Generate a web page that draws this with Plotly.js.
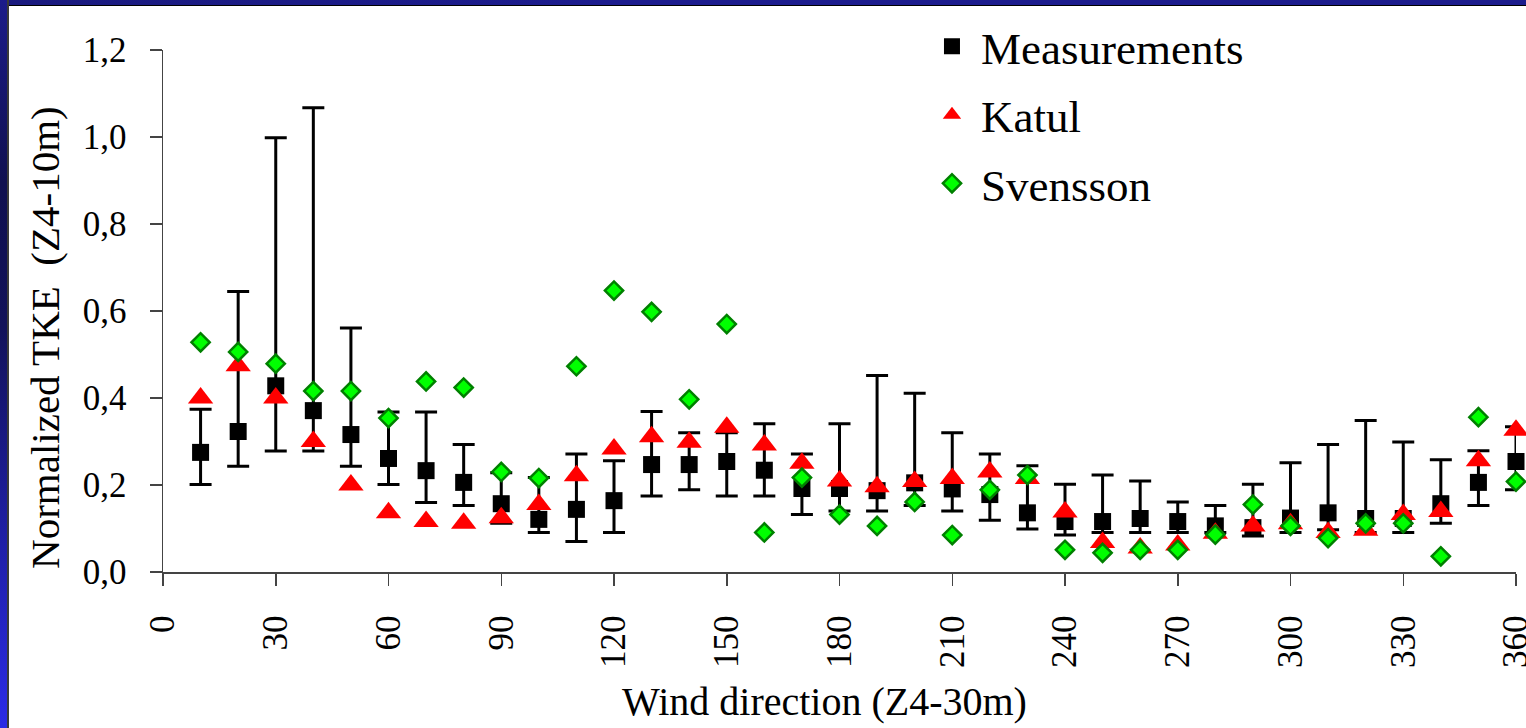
<!DOCTYPE html>
<html>
<head>
<meta charset="utf-8">
<script src="https://cdn.plot.ly/plotly-3.0.1.min.js"></script>
<style>
  html, body { margin: 0; padding: 0; width: 1526px; height: 728px; overflow: hidden; background: #ffffff; }
  #topband { position: absolute; left: 0; top: 0; width: 1526px; height: 5px; background: linear-gradient(to right, #1a1a7e, #1c1c8e 40%, #1c1c8c); border-bottom: 1px solid #000; z-index: 2; }
  #leftband { position: absolute; left: 0; top: 0; width: 7px; height: 728px; background: linear-gradient(to bottom, #1c1c8a 0%, #101050 25%, #12125a 45%, #2020a8 75%, #2b2be6 100%); border-right: 2px solid #3a3a3a; z-index: 2; }
  #chart { position: absolute; left: 0; top: 0; width: 1526px; height: 728px; z-index: 1; }
</style>
</head>
<body>
<div id="topband"></div>
<div id="leftband"></div>
<div id="chart"></div>
<script>
// Wind direction (degrees)
const direction = [10,20,30,40,50,60,70,80,90,100,110,120,130,140,150,160,170,180,
                   190,200,210,220,230,240,250,260,270,280,290,300,310,320,330,340,350,360];

// Measurements (mean) and error bar extremes (upper / lower values)
const measurements = [0.275,0.323,0.428,0.371,0.316,0.261,0.233,0.206,0.157,0.121,0.144,0.164,
                      0.247,0.247,0.254,0.234,0.192,0.192,0.187,0.205,0.191,0.178,0.136,0.116,
                      0.116,0.123,0.116,0.106,0.102,0.124,0.136,0.123,0.123,0.157,0.206,0.254];
const measUpper = [0.374,0.645,0.998,1.067,0.561,0.368,0.368,0.293,0.228,0.217,0.271,0.256,
                   0.369,0.320,0.320,0.341,0.271,0.341,0.452,0.411,0.320,0.271,0.244,0.202,
                   0.223,0.209,0.161,0.153,0.202,0.251,0.293,0.348,0.299,0.258,0.279,0.334];
const measLower = [0.201,0.243,0.278,0.278,0.243,0.201,0.160,0.153,0.112,0.091,0.070,0.091,
                   0.175,0.189,0.175,0.175,0.132,0.140,0.140,0.153,0.140,0.119,0.099,0.085,
                   0.091,0.091,0.091,0.091,0.083,0.091,0.097,0.091,0.091,0.112,0.153,0.189];

// Katul model
const katul = [0.400,0.474,0.400,0.300,0.200,0.136,0.116,0.112,0.125,0.155,0.221,0.283,
               0.311,0.298,0.333,0.292,0.250,0.209,0.196,0.208,0.215,0.230,0.215,0.138,
               0.068,0.055,0.062,0.089,0.106,0.111,0.091,0.096,0.132,0.139,0.256,0.326];

// Svensson model
const svensson = [0.528,0.506,0.479,0.416,0.416,0.354,0.438,0.424,0.230,0.216,0.473,0.647,
                  0.598,0.397,0.570,0.091,0.217,0.132,0.106,0.161,0.085,0.189,0.223,0.051,
                  0.044,0.051,0.051,0.086,0.155,0.106,0.078,0.112,0.112,0.036,0.356,0.208];

const seriesNames = ['Measurements', 'Katul', 'Svensson'];
const xTickVals = [0,30,60,90,120,150,180,210,240,270,300,330,360];
const yTickVals = [0,0.2,0.4,0.6,0.8,1.0,1.2];
const xTitle = 'Wind direction (Z4-30m)';
const yTitle = 'Normalized TKE\u00a0\u00a0(Z4-10m)';

const errPlus = measUpper.map((u, i) => u - measurements[i]);
const errMinus = measLower.map((l, i) => measurements[i] - l);

const serif = 'Liberation Serif, Times New Roman, serif';

const traces = [
  {
    x: direction, y: measurements, type: 'scatter', mode: 'markers', name: seriesNames[0],
    legendgroup: 'g1', cliponaxis: false,
    marker: { symbol: 'square', size: 17, color: '#000000' },
    error_y: { type: 'data', symmetric: false, array: errPlus, arrayminus: errMinus,
               color: '#000000', thickness: 3, width: 11 }
  },
  {
    x: direction, y: katul, type: 'scatter', mode: 'markers', name: seriesNames[1],
    legendgroup: 'g2', cliponaxis: false,
    marker: { symbol: 'triangle-up', size: 22, color: '#ff0000' }
  },
  {
    x: direction, y: svensson, type: 'scatter', mode: 'markers', name: seriesNames[2],
    legendgroup: 'g3', cliponaxis: false,
    marker: { symbol: 'diamond', size: 14, color: '#00ff00', line: { color: '#008000', width: 2.5 } }
  }
];

const layout = {
  width: 1526, height: 728,
  paper_bgcolor: 'rgba(0,0,0,0)',
  plot_bgcolor: 'rgba(0,0,0,0)',
  separators: ', ',
  margin: { l: 163, r: 10, t: 39, b: 156, pad: 0 },
  font: { family: serif, color: '#000000' },
  showlegend: true,
  legend: {
    x: 0.5617, xanchor: 'left', y: 1.0756, yanchor: 'top',
    bgcolor: 'rgba(0,0,0,0)', borderwidth: 0,
    traceorder: 'grouped', tracegroupgap: 7, itemwidth: 48,
    font: { family: serif, size: 45, color: '#000000' }
  },
  xaxis: {
    range: [0, 360], tickvals: xTickVals, ticktext: xTickVals.map(String),
    tickangle: -90, ticks: 'outside', ticklen: 12, tickwidth: 1.5, tickcolor: '#444444',
    showline: true, linecolor: '#444444', linewidth: 1.5, showgrid: false, zeroline: false,
    tickfont: { family: serif, size: 35, color: '#000000' },
    ticklabelstandoff: 16, ticklabeloverflow: 'allow', automargin: false
  },
  yaxis: {
    range: [0, 1.2], tickvals: yTickVals, tickformat: '.1f',
    ticks: 'outside', ticklen: 12, tickwidth: 1.5, tickcolor: '#444444',
    showline: true, linecolor: '#444444', linewidth: 1.5, showgrid: false, zeroline: false,
    tickfont: { family: serif, size: 35, color: '#000000' },
    ticklabelstandoff: 16, automargin: false
  },
  annotations: [
    { text: xTitle, xref: 'paper', yref: 'paper', x: 0.4889, y: -0.2477,
      xanchor: 'center', yanchor: 'middle', showarrow: false,
      font: { family: serif, size: 40, color: '#000000' } },
    { text: yTitle, xref: 'paper', yref: 'paper', x: -0.0872, y: 0.4484, textangle: -90,
      xanchor: 'center', yanchor: 'middle', showarrow: false,
      font: { family: serif, size: 41, color: '#000000' } }
  ]
};

Plotly.newPlot('chart', traces, layout, { displayModeBar: false, staticPlot: true });
</script>
</body>
</html>
